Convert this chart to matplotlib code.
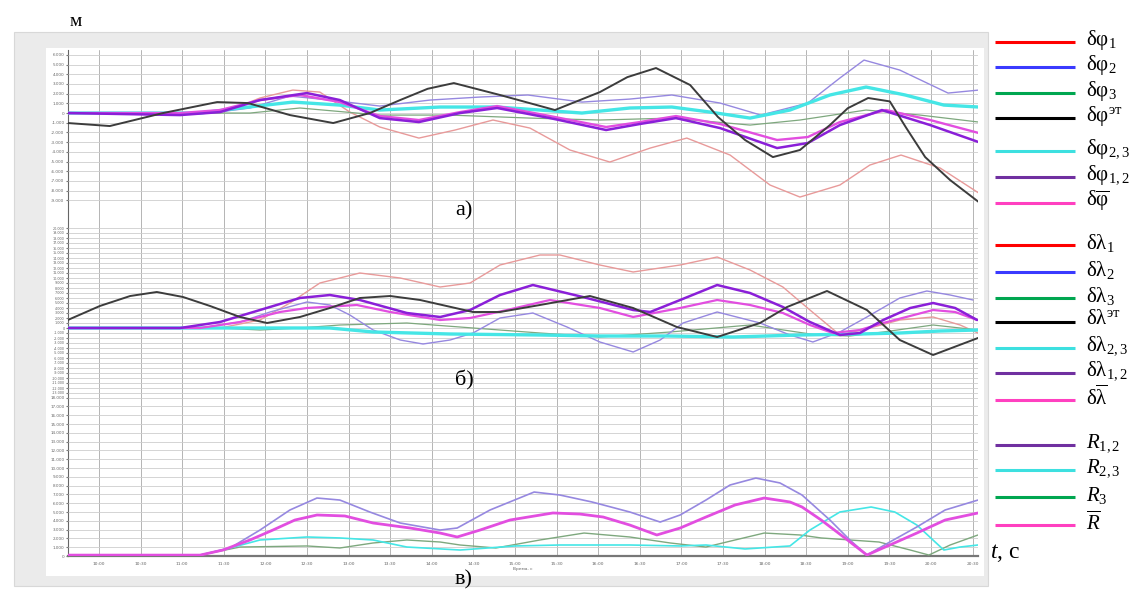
import matplotlib
matplotlib.use("Agg")
import matplotlib.pyplot as plt
from matplotlib.patches import Rectangle
from matplotlib.lines import Line2D

plt.rcParams['font.family'] = ['Liberation Serif', 'DejaVu Serif']
plt.rcParams['mathtext.fontset'] = 'custom'
plt.rcParams['mathtext.rm'] = 'Liberation Serif'
plt.rcParams['mathtext.it'] = 'Liberation Serif:italic'
plt.rcParams['mathtext.bf'] = 'Liberation Serif:bold'
plt.rcParams['lines.solid_joinstyle'] = 'round'
plt.rcParams['lines.solid_capstyle'] = 'round'

# ---- panel a): latitude errors (grid units) ----
t_a_blk = [-0.75, 0.26, 1.54, 2.84, 3.58, 4.59, 5.63, 6.51, 7.24, 7.9, 8.53, 9.64, 10.96, 12.04, 12.7, 13.39, 14.21, 14.88,
           15.53, 16.2, 16.85, 17.57, 18.0, 18.49, 19.01, 19.4, 19.86, 20.46, 21.15]
v_a_blk = [-1.03, -1.34, 0, 1.13, 1.03, -0.21, -1.03, 0, 1.34, 2.5, 3.09, 1.86, 0.31, 2.16, 3.7, 4.64, 2.89, -0.41,
           -2.78, -4.54, -3.81, -1.24, 0.5, 1.55, 1.2, -1.5, -4.54, -6.91, -9.18]
t_a_red = [-0.75, 2.43, 3.15, 3.87, 4.66, 5.31, 6.03, 6.75, 7.69, 8.56, 9.47, 10.36, 11.32, 12.28, 13.25, 14.13, 15.17,
           16.13, 16.85, 17.81, 18.53, 19.28, 20.22, 21.15]
v_a_red = [0, 0, 0.31, 1.55, 2.37, 2.16, 0.1, -1.44, -2.58, -1.75, -0.72, -1.55, -3.81, -5.05, -3.61, -2.58, -4.33,
           -7.42, -8.66, -7.42, -5.36, -4.33, -5.67, -8.25]
t_a_blu = [-0.75, 2.67, 3.63, 4.59, 5.55, 6.75, 7.96, 9.16, 10.31, 11.61, 12.76, 13.77, 14.93, 15.91, 17.04, 17.81,
           18.39, 19.25, 20.41, 21.15]
v_a_blu = [0, 0, 0.52, 1.75, 1.34, 0.72, 1.34, 1.65, 1.86, 1.13, 1.44, 1.86, 1.03, -0.21, 1.03, 3.61, 5.46, 4.43, 2.06, 2.37]
t_a_grn = [-0.75, 3.63, 4.83, 6.75, 8.44, 10.36, 12.04, 13.77, 15.65, 16.85, 18.44, 19.74, 21.15]
v_a_grn = [0, 0, 0.52, -0.21, -0.21, -0.52, -0.72, -0.52, -1.24, -0.72, 0.31, -0.21, -0.93]
t_a_cyn = [-0.75, 2.43, 3.39, 4.66, 5.79, 6.75, 8.2, 9.57, 10.6, 11.61, 12.76, 13.77, 14.69, 15.65, 16.61, 17.57,
           18.44, 19.38, 20.31, 21.15]
v_a_cyn = [0, 0, 0.52, 1.13, 0.82, 0.31, 0.62, 0.62, 0.31, 0, 0.52, 0.62, 0.1, -0.52, 0.31, 1.86, 2.68, 1.86, 0.82, 0.62]
t_a_pur = [-0.75, 1.95, 2.91, 3.87, 5.0, 5.79, 6.75, 7.69, 8.68, 9.57, 10.84, 12.19, 13.0, 13.87, 14.93, 16.3, 17.04,
           17.81, 18.82, 19.98, 21.15]
v_a_pur = [0, -0.21, 0.1, 1.34, 2.06, 1.34, -0.52, -0.93, 0, 0.52, -0.52, -1.75, -1.13, -0.52, -1.55, -3.61, -3.09,
           -1.24, 0.31, -1.24, -3.0]
t_a_mag = [-0.75, 1.95, 2.91, 3.87, 4.83, 5.79, 6.75, 7.69, 8.68, 9.57, 10.84, 12.19, 13.0, 13.87, 14.93, 16.3, 17.04,
           17.81, 18.92, 19.98, 21.15]
v_a_mag = [0, 0, 0.31, 1.34, 1.86, 1.13, -0.31, -0.72, 0.1, 0.72, -0.31, -1.44, -0.93, -0.31, -1.13, -2.78, -2.47,
           -0.93, 0.31, -0.72, -2.06]

# ---- panel б): longitude errors ----
t_b_blk = [-0.75, 0.02, 0.75, 1.39, 2.02, 2.67, 3.39, 4.04, 4.83, 5.55, 6.27, 7.0, 7.72, 8.99, 9.64, 10.6, 11.8, 12.84,
           13.89, 14.86, 15.89, 16.54, 17.5, 18.46, 19.25, 20.05, 21.13]
v_b_blk = [1.6, 4.4, 6.4, 7.2, 6.2, 4.4, 2.2, 1.0, 2.2, 4.0, 6.0, 6.4, 5.6, 3.2, 3.2, 4.6, 6.4, 4.0,
           0.2, -1.8, 1.0, 4.2, 7.4, 3.6, -2.4, -5.4, -2.0]
t_b_red = [-0.75, 2.91, 3.87, 4.59, 5.31, 6.27, 7.24, 8.2, 8.92, 9.64, 10.6, 11.08, 12.04, 12.84, 13.97, 14.86, 15.65,
           16.44, 17.09, 17.81, 18.53, 19.25, 20.05, 20.7, 21.13]
v_b_red = [0, 0, 1.6, 5.0, 9.0, 11.0, 10.0, 8.2, 9.0, 12.6, 14.6, 14.6, 12.6, 11.2, 12.6, 14.2, 11.6,
           8.2, 3.6, -1.4, 0, 1.6, 2.2, 0.6, -1.0]
t_b_blu = [-0.75, 2.43, 3.39, 4.11, 5.0, 5.55, 6.03, 6.59, 7.24, 7.79, 8.44, 8.99, 9.64, 10.43, 11.25, 12.04, 12.84,
           13.49, 14.04, 14.86, 15.89, 16.61, 17.16, 17.81, 18.46, 19.25, 19.9, 20.46, 21.01]
v_b_blu = [0, 0, 1.2, 3.2, 5.2, 4.6, 2.6, -0.4, -2.4, -3.2, -2.4, -1.0, 2.0, 3.0, 0.2, -2.8, -4.8,
           -2.4, 1.0, 3.2, 1.0, -1.4, -2.8, -0.8, 2.2, 6.0, 7.4, 6.6, 5.6]
t_b_grn = [-0.75, 2.91, 3.87, 4.83, 5.79, 7.4, 8.99, 10.6, 12.04, 13.73, 15.65, 17.26, 18.05, 18.85, 20.05, 21.13]
v_b_grn = [0, 0, -0.4, 0, 0.6, 1.0, 0, -1.0, -1.8, -0.8, 0.6, -1.4, -1.6, -0.8, 0.6, -0.4]
t_b_cyn = [-0.75, 5.55, 6.59, 8.44, 10.6, 12.04, 13.65, 15.24, 16.85, 18.29, 19.25, 20.22, 21.13]
v_b_cyn = [0, 0, -0.8, -1.2, -1.4, -1.6, -1.6, -1.8, -1.4, -1.2, -1.0, -0.6, -0.4]
t_b_pur = [-0.75, 1.95, 2.91, 3.87, 4.83, 5.55, 6.27, 7.4, 8.2, 8.92, 9.64, 10.43, 11.63, 12.84, 13.25, 13.97, 14.86,
           15.65, 16.44, 17.09, 17.81, 18.29, 18.85, 19.5, 20.05, 20.58, 21.11]
v_b_pur = [0, 0, 1.2, 3.6, 6.0, 6.6, 5.6, 3.0, 2.2, 3.6, 6.6, 8.6, 6.2, 3.6, 3.2, 5.6, 8.6,
           7.0, 4.2, 1.2, -1.4, -1.0, 1.6, 4.0, 5.0, 4.0, 1.6]
t_b_mag = [-0.75, 2.43, 3.39, 4.35, 5.0, 6.2, 7.0, 8.2, 8.92, 9.81, 10.84, 12.04, 12.84, 13.97, 14.86, 15.65, 16.44,
           17.09, 17.64, 18.29, 18.85, 20.05, 20.58, 21.11]
v_b_mag = [0, 0, 1.2, 3.2, 4.0, 4.6, 3.2, 1.6, 2.0, 3.6, 5.6, 4.0, 2.2, 4.0, 5.6, 4.6, 3.0,
           0.6, -1.0, -0.4, 1.0, 3.6, 3.2, 1.6]

# ---- panel в): radial errors ----
t_c_r12 = [-0.75, 2.43, 3.15, 3.87, 4.59, 5.24, 5.79, 6.51, 7.24, 8.2, 8.61, 9.4, 10.46, 11.08, 11.85, 12.76, 13.49,
           13.97, 14.59, 15.17, 15.79, 16.37, 16.9, 17.57, 18.05, 18.46, 19.01, 19.66, 20.34, 21.13]
v_c_r12 = [0.1, 0.1, 0.91, 2.95, 5.23, 6.59, 6.36, 5.0, 3.75, 2.95, 3.18, 5.23, 7.27, 6.93, 6.14, 5.0, 3.86,
           4.66, 6.36, 8.07, 8.86, 8.3, 6.93, 4.09, 1.82, 0.11, 1.59, 3.3, 5.23, 6.36]
t_c_rm = [-0.75, 2.43, 2.98, 3.63, 4.18, 4.71, 5.24, 5.91, 6.59, 7.48, 8.2, 8.61, 9.16, 9.88, 10.91, 11.56, 12.12,
          12.76, 13.41, 13.97, 14.59, 15.29, 15.99, 16.61, 16.9, 17.36, 17.93, 18.46, 19.01, 19.66, 20.34, 21.13]
v_c_rm = [0.1, 0.1, 0.68, 1.82, 2.95, 4.09, 4.66, 4.55, 3.75, 3.18, 2.61, 2.16, 2.95, 4.09, 4.89, 4.77, 4.43,
          3.52, 2.39, 3.18, 4.43, 5.8, 6.59, 6.14, 5.57, 4.09, 2.05, 0.11, 1.25, 2.61, 4.09, 4.89]
t_c_r23 = [-0.75, 2.43, 3.15, 3.87, 5.0, 5.79, 6.59, 7.4, 8.68, 10.0, 11.08, 12.76, 13.97, 14.59, 15.53, 16.61, 17.09,
           17.81, 18.56, 19.13, 19.66, 20.1, 20.31, 20.7, 21.13]
v_c_r23 = [0.1, 0.1, 0.91, 1.82, 2.16, 2.05, 1.82, 1.02, 0.68, 1.14, 1.25, 1.25, 1.14, 1.25, 0.8, 1.14, 2.95,
           5.0, 5.57, 5.0, 3.52, 1.59, 0.68, 1.02, 1.25]
t_c_r3 = [-0.75, 2.43, 3.39, 5.0, 5.79, 6.59, 7.4, 8.2, 8.68, 9.54, 10.6, 11.66, 12.76, 13.73, 14.59, 15.29, 15.99,
          16.85, 17.36, 18.75, 19.5, 19.95, 20.46, 21.13]
v_c_r3 = [0.1, 0.1, 1.02, 1.14, 0.91, 1.48, 1.82, 1.59, 1.25, 0.91, 1.82, 2.61, 2.16, 1.48, 1.02, 1.82, 2.61,
          2.39, 2.05, 1.59, 0.68, 0.11, 1.25, 2.39]

# legend entries (mathtext)
leg_a = [r'$\mathrm{δφ}_{\mathrm{1}}$', r'$\mathrm{δφ}_{\mathrm{2}}$', r'$\mathrm{δφ}_{\mathrm{3}}$',
         r'$\mathrm{δφ}^{\mathrm{эт}}$', r'$\mathrm{δφ}_{\mathrm{2,3}}$', r'$\mathrm{δφ}_{\mathrm{1,2}}$',
         r'$\mathrm{δ}\overline{\mathrm{φ}}$']
leg_b = [r'$\mathrm{δλ}_{\mathrm{1}}$', r'$\mathrm{δλ}_{\mathrm{2}}$', r'$\mathrm{δλ}_{\mathrm{3}}$',
         r'$\mathrm{δλ}^{\mathrm{эт}}$', r'$\mathrm{δλ}_{\mathrm{2,3}}$', r'$\mathrm{δλ}_{\mathrm{1,2}}$',
         r'$\mathrm{δ}\overline{\mathrm{λ}}$']
leg_c = [r'$R_{\mathrm{1,2}}$', r'$R_{\mathrm{2,3}}$', r'$R_{\mathrm{3}}$', r'$\overline{R}$']
leg_col7 = ['#ff0000', '#3a3aff', '#00a650', '#000000', '#3de0e0', '#7030a0', '#ff40c0']
leg_colR = ['#7030a0', '#3de0e0', '#00a650', '#ff40c0']

# colours of the faded screen curves
c_red = '#e89a9a'
c_blu = '#9688e0'
c_grn = '#7ea87e'
c_blk = '#3c3c3c'
c_cyn = '#45e6e6'
c_pur = '#8a1fd8'
c_mag = '#e24ee0'

xticks = list(range(0, 22))
xlab = ['%d:%02d' % (10 + (k * 30) // 60, (k * 30) % 60) for k in xticks]

W, H = 1130, 596
fig = plt.figure(figsize=(W / 100, H / 100), dpi=100)
fig.patch.set_facecolor('white')

# screenshot frame
fig.add_artist(Rectangle((14 / W, 1 - 586 / H), 974 / W, 554 / H, transform=fig.transFigure,
                         facecolor='#ebebeb', edgecolor='#d8d8d8', lw=0.8, zorder=0))
fig.add_artist(Rectangle((46 / W, 1 - 576 / H), 938 / W, 528 / H, transform=fig.transFigure,
                         facecolor='white', edgecolor='none', zorder=0))

xl = (-0.745, 21.13)
L, Wd = 68 / W, 910 / W


def fax(top, bot):
    return [L, 1 - bot / H, Wd, (bot - top) / H]


ax0 = fig.add_axes(fax(50, 556))
ax0.set_xlim(*xl)
ax0.set_ylim(0, 1)
ax0.set_xticks(xticks)
ax0.set_xticklabels(xlab, fontsize=3.2, color='#666666', family='DejaVu Sans')
ax0.set_yticks([])
ax0.grid(axis='x', color='#b4b4b4', lw=0.7)
for s in ['top', 'right']:
    ax0.spines[s].set_visible(False)
ax0.spines['left'].set_color('#666666')
ax0.spines['bottom'].set_color('#777777')
ax0.spines['bottom'].set_linewidth(1.6)
ax0.tick_params(length=0, pad=4)
ax0.set_xlabel('Время, с', fontsize=3.2, color='#666666', family='DejaVu Sans', labelpad=1)


def panel(top, bot, ylo, yhi, fs):
    ax = fig.add_axes(fax(top, bot), sharex=ax0)
    ax.patch.set_alpha(0)
    ax.set_ylim(ylo, yhi)
    yt = list(range(int(ylo) if ylo > 0 else -int(-ylo), int(yhi) + 1))
    ax.set_yticks(yt)
    ax.set_yticklabels(['0' if v == 0 else '%.3f' % v for v in yt], fontsize=fs, color='#666666',
                       family='DejaVu Sans')
    ax.grid(axis='y', color='#cdcdcd', lw=0.6)
    ax.grid(axis='x', visible=False)
    for s in ax.spines.values():
        s.set_visible(False)
    ax.tick_params(axis='y', length=1.5, pad=1, color='#777777')
    ax.tick_params(axis='x', bottom=False, labelbottom=False)
    return ax


axa = panel(53, 205, -9.48, 6.19, 3.0)
axb = panel(228, 395, -13.4, 20.0, 2.4)
axc = panel(395, 556, 0, 18.3, 3.0)

axa.plot(t_a_red, v_a_red, color=c_red, lw=1.0)
axa.plot(t_a_grn, v_a_grn, color=c_grn, lw=0.9)
axa.plot(t_a_blu, v_a_blu, color=c_blu, lw=1.0)
axa.plot(t_a_cyn, v_a_cyn, color=c_cyn, lw=2.4)
axa.plot(t_a_mag, v_a_mag, color=c_mag, lw=1.7)
axa.plot(t_a_pur, v_a_pur, color=c_pur, lw=1.8)
axa.plot(t_a_blk, v_a_blk, color=c_blk, lw=1.4)

axb.plot(t_b_red, v_b_red, color=c_red, lw=1.0)
axb.plot(t_b_grn, v_b_grn, color=c_grn, lw=0.9)
axb.plot(t_b_blu, v_b_blu, color=c_blu, lw=1.0)
axb.plot(t_b_cyn, v_b_cyn, color=c_cyn, lw=2.4)
axb.plot(t_b_mag, v_b_mag, color=c_mag, lw=1.6)
axb.plot(t_b_pur, v_b_pur, color=c_pur, lw=1.8)
axb.plot(t_b_blk, v_b_blk, color=c_blk, lw=1.4)

axc.plot(t_c_r3, v_c_r3, color=c_grn, lw=1.0)
axc.plot(t_c_r23, v_c_r23, color=c_cyn, lw=1.2)
axc.plot(t_c_r12, v_c_r12, color=c_blu, lw=1.2)
axc.plot(t_c_rm, v_c_rm, color=c_mag, lw=2.0)

# panel captions and units
fig.text(70 / W, 1 - 22 / H, 'м', fontsize=14, va='center', ha='left')
fig.text(455 / W, 1 - 211 / H, 'а)', fontsize=16, va='center', ha='left')
fig.text(455 / W, 1 - 380 / H, 'б)', fontsize=16, va='center', ha='left')
fig.text(455 / W, 1 - 580 / H, 'в)', fontsize=16, va='center', ha='left')
fig.text(990 / W, 1 - 553 / H, r'$t$, с', fontsize=17, va='center', ha='left')

# legend on the right
ya = [42, 67, 93, 118, 151, 177, 203]
yb = [245, 272, 298, 322, 348, 373, 400]
yc = [445, 470, 497, 525]


def legend_rows(ys, labels, cols):
    for y, lab, c in zip(ys, labels, cols):
        fig.add_artist(Line2D([995 / W, 1075 / W], [1 - y / H, 1 - y / H], transform=fig.transFigure,
                              color=c, lw=2.2, solid_capstyle='butt'))
        fig.text(1086 / W, 1 - (y - 2) / H, lab, fontsize=15, va='center', ha='left')


legend_rows(ya, leg_a, leg_col7)
legend_rows(yb, leg_b, leg_col7)
legend_rows(yc, leg_c, leg_colR)

fig.savefig('out.png', dpi=100)
